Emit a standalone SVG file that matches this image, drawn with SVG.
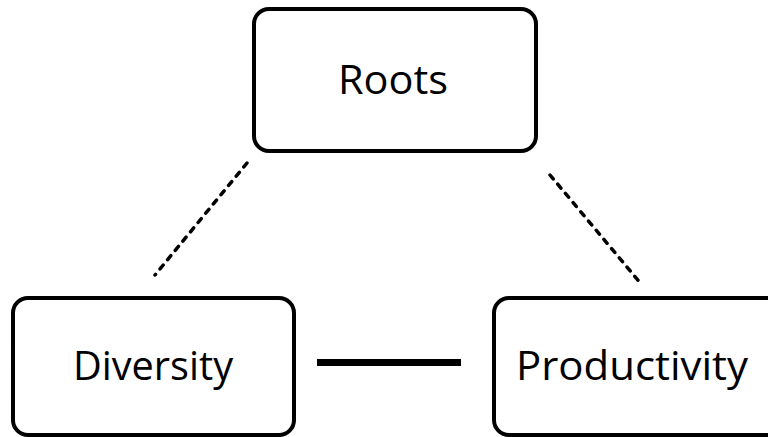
<svg xmlns="http://www.w3.org/2000/svg" width="768" height="437" viewBox="0 0 768 437">
<style>
.box{fill:#fff;stroke:#000;stroke-width:4}
.lbl{font-family:"Open Sans","Liberation Sans",sans-serif;font-size:41px;fill:#000;text-anchor:middle}
.dash{stroke:#000;stroke-width:3.5;stroke-dasharray:5 7;stroke-linecap:round;fill:none}
.solid{stroke:#000;stroke-width:7;fill:none}
</style>
<rect width="768" height="437" fill="#fff"/>
<g id="connectors">
<line class="dash" x1="247" y1="163" x2="155" y2="275"/>
<line class="dash" x1="550" y1="175" x2="642" y2="285"/>
<line class="solid" x1="317" y1="362.5" x2="461" y2="362.5"/>
</g>
<g id="roots">
<rect class="box" x="254" y="9" width="282" height="142" rx="15"/>
<text class="lbl" x="393" y="94" textLength="110" lengthAdjust="spacingAndGlyphs">Roots</text>
</g>
<g id="diversity">
<rect class="box" x="13" y="298" width="281" height="137" rx="15"/>
<text class="lbl" x="153" y="380" textLength="160" lengthAdjust="spacingAndGlyphs">Diversity</text>
</g>
<g id="productivity">
<rect class="box" x="494" y="298" width="290" height="137" rx="15"/>
<text class="lbl" x="632" y="380" textLength="232" lengthAdjust="spacingAndGlyphs">Productivity</text>
</g>
</svg>
